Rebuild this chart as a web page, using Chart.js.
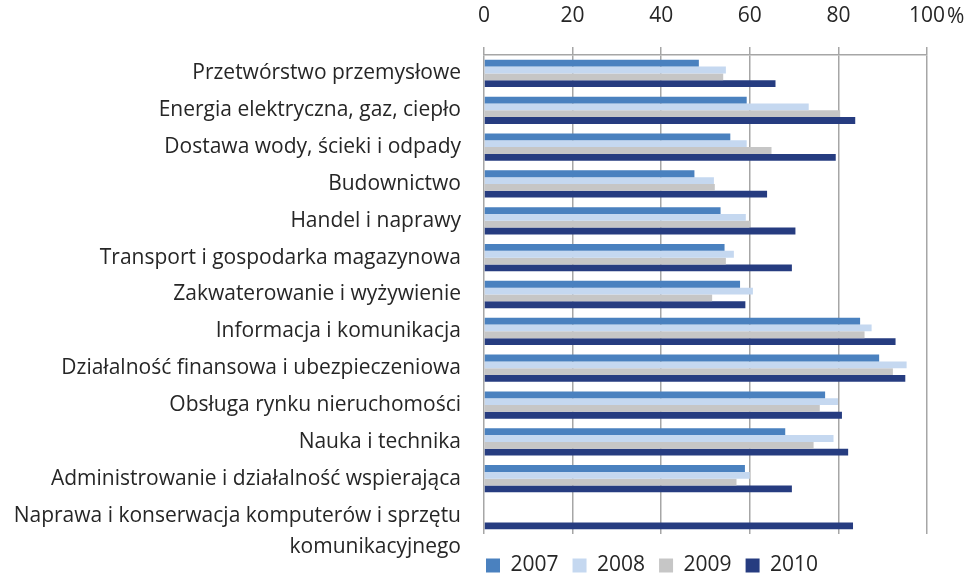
<!DOCTYPE html>
<html>
<head>
<meta charset="utf-8">
<script src="https://cdn.jsdelivr.net/npm/chart.js@4"></script>
<style>
  html, body { margin: 0; padding: 0; background: #fff; }
  #wrap { width: 973px; height: 575px; position: relative; }
</style>
</head>
<body>
<div id="wrap"><canvas id="wykres"></canvas></div>
<script>
// kategorie (sekcje PKD)
const kategorie = [
  'Przetwórstwo przemysłowe',
  'Energia elektryczna, gaz, ciepło',
  'Dostawa wody, ścieki i odpady',
  'Budownictwo',
  'Handel i naprawy',
  'Transport i gospodarka magazynowa',
  'Zakwaterowanie i wyżywienie',
  'Informacja i komunikacja',
  'Działalność finansowa i ubezpieczeniowa',
  'Obsługa rynku nieruchomości',
  'Nauka i technika',
  'Administrowanie i działalność wspierająca',
  ['', 'Naprawa i konserwacja komputerów i sprzętu', 'komunikacyjnego']
];

const lata = ['2007', '2008', '2009', '2010'];

const dane2007 = [48.5, 59.3, 55.6, 47.5, 53.4, 54.3, 57.8, 84.9, 89.2, 77.0, 68.0, 58.9, null];
const dane2008 = [54.6, 73.3, 59.3, 51.9, 59.1, 56.4, 60.7, 87.5, 95.4, 79.9, 78.9, 60.0, null];
const dane2009 = [54.0, 80.4, 64.9, 52.1, 60.1, 54.6, 51.5, 85.9, 92.3, 75.8, 74.4, 57.0, null];
const dane2010 = [65.8, 83.8, 79.4, 63.9, 70.3, 69.5, 59.0, 92.9, 95.1, 80.8, 82.2, 69.5, 83.3];

const tickiX = [0, 20, 40, 60, 80, 100];

const kolory = ['#4A81BF', '#C5D8F0', '#C6C6C6', '#263C80'];

const czcionka = '"Open Sans", sans-serif';
const kolorTekstu = '#262626';

// dopisuje znak % za ostatnią etykietą osi X i przesuwa legendę
const procentPlugin = {
  id: 'procent',
  beforeDraw(chart) {
    const lg = chart.legend;
    const w = lg.right - lg.left;
    lg.left = chart.chartArea.left - 12;
    lg.right = lg.left + w;
    const h = lg.bottom - lg.top;
    lg.top = chart.height - h + 11;
    lg.bottom = lg.top + h;
  },
  afterDraw(chart) {
    const sc = chart.scales.x;
    const ctx = chart.ctx;
    ctx.save();
    ctx.font = '21px ' + czcionka;
    ctx.fillStyle = kolorTekstu;
    ctx.textBaseline = 'middle';
    ctx.textAlign = 'left';
    const x = sc.getPixelForValue(100) + ctx.measureText('100').width / 2 + 2;
    ctx.fillText('%', x, 17);
    ctx.restore();
  }
};

const zbiory = [dane2007, dane2008, dane2009, dane2010].map((d, i) => ({
  label: lata[i],
  data: d,
  backgroundColor: kolory[i],
  borderWidth: 0,
  categoryPercentage: 0.74,
  barPercentage: 1.0
}));

new Chart(document.getElementById('wykres'), {
  type: 'bar',
  data: { labels: kategorie, datasets: zbiory },
  plugins: [procentPlugin],
  options: {
    indexAxis: 'y',
    responsive: true,
    maintainAspectRatio: false,
    animation: false,
    layout: { padding: { left: 0, right: 46, top: 0, bottom: -4 } },
    scales: {
      x: {
        position: 'top',
        min: 0,
        max: 100,
        afterBuildTicks(axis) { axis.ticks = tickiX.map(v => ({ value: v })); },
        afterFit(axis) { axis.height = 55; axis.paddingLeft = 0; axis.paddingRight = 0; },
        ticks: {
          font: { family: czcionka, size: 21 },
          color: kolorTekstu,
          padding: 18,
          maxRotation: 0
        },
        grid: { color: '#A6A6A6', lineWidth: 1.5, tickLength: 8, drawTicks: true },
        border: { color: '#A6A6A6', width: 1.5 }
      },
      y: {
        afterFit(axis) { axis.width = 484; axis.paddingTop = 0; axis.paddingBottom = 0; },
        ticks: {
          font: { family: czcionka, size: 21, lineHeight: 1.52 },
          color: kolorTekstu,
          padding: 15,
          autoSkip: false
        },
        grid: { display: false },
        border: { display: false }
      }
    },
    plugins: {
      legend: {
        position: 'bottom',
        align: 'start',
        fullSize: false,
        labels: {
          font: { family: czcionka, size: 21 },
          color: kolorTekstu,
          boxWidth: 14,
          boxHeight: 14,
          padding: 14
        }
      },
      tooltip: { enabled: false }
    }
  }
});
</script>
</body>
</html>
